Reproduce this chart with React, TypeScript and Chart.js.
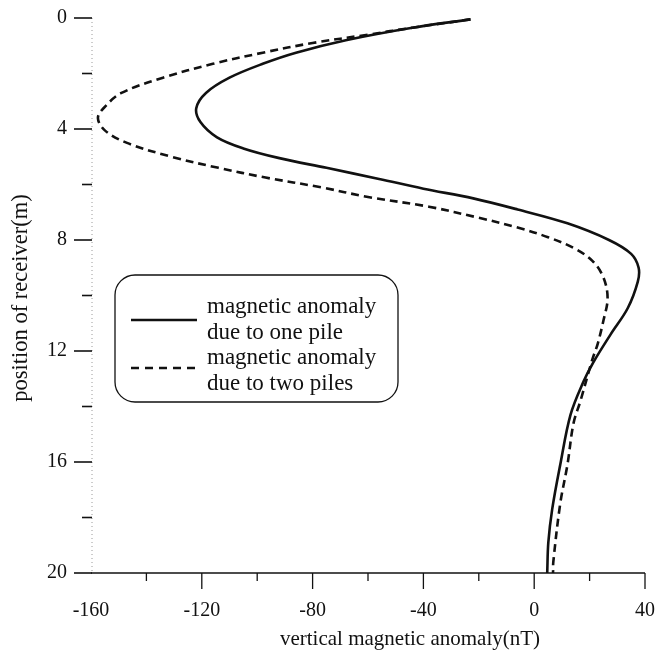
import React, { useEffect, useRef } from "react";
import { Chart, registerables } from "chart.js";

Chart.register(...registerables);

// ---- data ----
// Series 1: magnetic anomaly due to one pile
const depthOnePile = [0.05, 0.35, 0.8, 1.25, 1.65, 2.15, 2.7, 3.25, 3.75, 4.3, 4.7, 5.05, 5.4, 5.8, 6.15, 6.5, 6.9, 7.4, 8.0, 8.5, 9.0, 9.5, 10.45, 11.4, 12.4, 13.1, 14.3, 16.1, 17.7, 18.9, 20.0];
const anomalyOnePile = [-23, -44, -68, -86, -98, -110, -118.5, -122, -120.5, -114.5, -105, -92, -75, -56, -40, -22, -6, 12, 27, 35, 37.7, 37.4, 33.8, 27.6, 21.4, 17.8, 13.1, 9.4, 6.5, 5.1, 4.7];

// Series 2: magnetic anomaly due to two piles
const depthTwoPiles = [0.05, 0.35, 0.6, 0.9, 1.25, 1.65, 2.15, 2.7, 3.2, 3.6, 4.05, 4.5, 5.0, 5.4, 5.75, 6.1, 6.45, 6.8, 7.2, 7.55, 7.9, 8.3, 8.75, 9.35, 10.1, 10.9, 11.75, 12.3, 13.8, 14.6, 16.1, 17.5, 19.6, 20.0];
const anomalyTwoPiles = [-23, -44, -60, -80, -98, -116, -134, -149, -155, -157.5, -155, -147, -131, -114, -97, -77, -60, -38, -20, -6, 5, 14.5, 21, 25, 26.5, 25, 22.9, 21, 16.7, 14.2, 12, 9.4, 6.9, 6.8];

const seriesLabels = [
  ["magnetic anomaly", "due to one pile"],
  ["magnetic anomaly", "due to two piles"],
];

const xLabeledTicks = [-160, -120, -80, -40, 0, 40];
const yLabeledTicks = [0, 4, 8, 12, 16, 20];
const xTitle = "vertical magnetic anomaly(nT)";
const yTitle = "position of receiver(m)";

const SERIF = '"Liberation Serif", "Times New Roman", serif';

const tickMarksPlugin = {
  id: "tickMarks",
  afterDraw(chart: any) {
    const { ctx, chartArea } = chart;
    const xs = chart.scales.x;
    const ys = chart.scales.y;
    ctx.save();
    // y axis line (faint dotted)
    ctx.strokeStyle = "#9a9a9a";
    ctx.lineWidth = 1;
    ctx.setLineDash([1, 3]);
    ctx.beginPath();
    ctx.moveTo(chartArea.left + 1, chartArea.top);
    ctx.lineTo(chartArea.left + 1, chartArea.bottom);
    ctx.stroke();
    ctx.setLineDash([]);
    // x axis line
    ctx.strokeStyle = "#111";
    ctx.lineWidth = 1.5;
    ctx.beginPath();
    ctx.moveTo(chartArea.left, chartArea.bottom);
    ctx.lineTo(chartArea.right, chartArea.bottom);
    ctx.stroke();
    // x ticks (downwards)
    ctx.lineWidth = 1.3;
    xs.ticks.forEach((t: any) => {
      const v = t.value;
      if (v === xs.min) return;
      const px = xs.getPixelForValue(v);
      const len = xLabeledTicks.includes(v) ? 16 : 8;
      ctx.beginPath();
      ctx.moveTo(px, chartArea.bottom);
      ctx.lineTo(px, chartArea.bottom + len);
      ctx.stroke();
    });
    // y ticks (leftwards)
    ctx.lineWidth = 1.6;
    ys.ticks.forEach((t: any) => {
      const v = t.value;
      const py = ys.getPixelForValue(v);
      const len = yLabeledTicks.includes(v) ? 17 : 9;
      ctx.beginPath();
      ctx.moveTo(chartArea.left - len, py);
      ctx.lineTo(chartArea.left + 1, py);
      ctx.stroke();
    });
    // axis titles
    ctx.fillStyle = "#111";
    ctx.textAlign = "center";
    ctx.textBaseline = "middle";
    ctx.font = `21px ${SERIF}`;
    ctx.fillText(xTitle, 410, 639);
    ctx.save();
    ctx.translate(21, 298);
    ctx.rotate(-Math.PI / 2);
    ctx.font = `22.5px ${SERIF}`;
    ctx.fillText(yTitle, 0, 0);
    ctx.restore();
    ctx.restore();
  },
};

const boxLegendPlugin = {
  id: "boxLegend",
  afterDraw(chart: any) {
    const { ctx } = chart;
    const bx = 115, by = 275, bw = 283, bh = 127, r = 20;
    ctx.save();
    ctx.fillStyle = "#fff";
    ctx.strokeStyle = "#111";
    ctx.lineWidth = 1.3;
    ctx.beginPath();
    ctx.roundRect(bx, by, bw, bh, r);
    ctx.fill();
    ctx.stroke();
    const rows = [
      { lineY: 320, base: 313, dash: [] as number[], width: 2.6 },
      { lineY: 368, base: 364, dash: [8, 6], width: 2.6 },
    ];
    ctx.font = `23px ${SERIF}`;
    ctx.fillStyle = "#111";
    ctx.textBaseline = "alphabetic";
    ctx.textAlign = "left";
    rows.forEach((row, i) => {
      ctx.strokeStyle = "#111";
      ctx.lineWidth = row.width;
      ctx.setLineDash(row.dash);
      ctx.beginPath();
      ctx.moveTo(131, row.lineY);
      ctx.lineTo(197, row.lineY);
      ctx.stroke();
      ctx.setLineDash([]);
      const lines = seriesLabels[i];
      lines.forEach((txt, j) => {
        ctx.fillText(txt, 207, row.base + j * 25.5);
      });
    });
    ctx.restore();
  },
};

const zeroPadding = (scale: any) => {
  scale.paddingTop = 0;
  scale.paddingBottom = 0;
  scale.paddingLeft = 0;
  scale.paddingRight = 0;
};

export default function App() {
  const canvasRef = useRef<HTMLCanvasElement | null>(null);

  useEffect(() => {
    if (!canvasRef.current) return;
    const one = depthOnePile.map((d, i) => ({ x: anomalyOnePile[i], y: d }));
    const two = depthTwoPiles.map((d, i) => ({ x: anomalyTwoPiles[i], y: d }));
    const chart = new Chart(canvasRef.current, {
      type: "scatter",
      data: {
        datasets: [
          {
            label: seriesLabels[0].join(" "),
            data: one,
            showLine: true,
            borderColor: "#111",
            borderWidth: 2.6,
            pointRadius: 0,
            tension: 0.35,
            fill: false,
          },
          {
            label: seriesLabels[1].join(" "),
            data: two,
            showLine: true,
            borderColor: "#111",
            borderWidth: 2.6,
            borderDash: [8, 5],
            pointRadius: 0,
            tension: 0.35,
            fill: false,
          },
        ],
      },
      options: {
        responsive: false,
        animation: false,
        devicePixelRatio: 1,
        layout: { padding: { top: 18, right: 19, left: 0, bottom: 0 } },
        plugins: {
          legend: { display: false },
          tooltip: { enabled: false },
        },
        scales: {
          x: {
            type: "linear",
            min: -160,
            max: 40,
            grid: { display: false, drawTicks: false },
            border: { display: false },
            ticks: {
              stepSize: 20,
              autoSkip: false,
              maxRotation: 0,
              padding: 26,
              color: "#111",
              font: { family: SERIF, size: 20 },
              callback: (v: any) => (xLabeledTicks.includes(Number(v)) ? String(v) : ""),
            },
            title: { display: false },
            afterFit: (scale: any) => {
              scale.height = 84;
              zeroPadding(scale);
            },
          },
          y: {
            type: "linear",
            reverse: true,
            min: 0,
            max: 20,
            grid: { display: false, drawTicks: false },
            border: { display: false },
            ticks: {
              stepSize: 2,
              autoSkip: false,
              padding: 24,
              color: "#111",
              font: { family: SERIF, size: 20 },
              callback: (v: any) => (yLabeledTicks.includes(Number(v)) ? String(v) : ""),
            },
            title: { display: false },
            afterFit: (scale: any) => {
              scale.width = 91;
              zeroPadding(scale);
            },
          },
        },
      },
      plugins: [tickMarksPlugin, boxLegendPlugin],
    });
    return () => chart.destroy();
  }, []);

  return (
    <div style={{ position: "fixed", left: 0, top: 0, width: 664, height: 657, background: "#fff" }}>
      <canvas ref={canvasRef} width={664} height={657} style={{ display: "block" }} />
    </div>
  );
}
